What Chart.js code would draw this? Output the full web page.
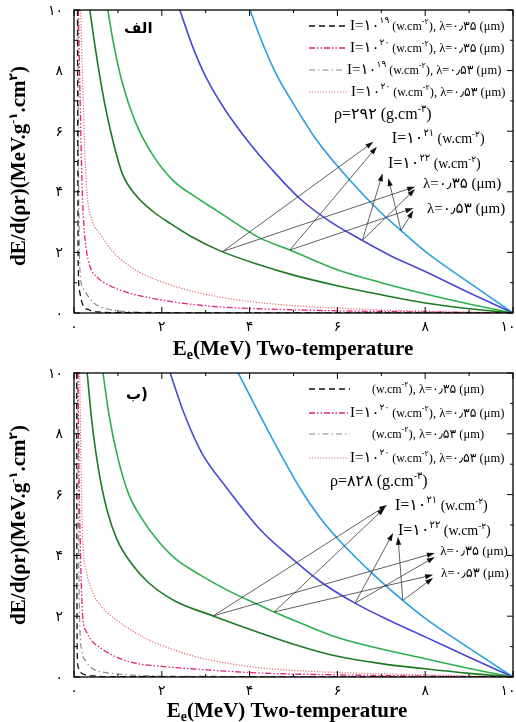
<!DOCTYPE html>
<html>
<head>
<meta charset="utf-8">
<script src="https://cdn.jsdelivr.net/npm/chart.js@4.4.1/dist/chart.umd.min.js"></script>
<style>
  body { margin: 0; background: #fff; width: 516px; height: 722px; overflow: hidden; }
  .panel { position: absolute; left: 0; width: 516px; height: 361px; }
</style>
</head>
<body>
<div class="panel" style="top:0"><canvas id="chartTop" width="516" height="361"></canvas></div>
<div class="panel" style="top:361px"><canvas id="chartBottom" width="516" height="361"></canvas></div>
<script>
// axis ticks (values), labels are drawn with Persian digits
const majorTicks = [0, 2, 4, 6, 8, 10];
const minorTicks = [1, 3, 5, 7, 9];

// ---- panel "الف" (rho = 292) : [E (MeV), dE/d(rho r)]
const topI19L35 = [[0.08,10],[0.085,6],[0.09,3],[0.1,1.3],[0.13,0.7],[0.2,0.27],[0.35,0.1],[0.6,0.03],[1,0.01],[10,0]];
const topI20L35 = [[0.1,10],[0.14,7],[0.18,4.4],[0.22,3.0],[0.28,2.1],[0.36,1.55],[0.55,1.15],[0.82,0.9],[1.2,0.68],[1.73,0.5],[2.5,0.32],[3.33,0.2],[5.15,0.1],[7,0.05],[10,0]];
const topI19L53 = [[0.09,10],[0.1,5.5],[0.12,2.4],[0.14,1.27],[0.2,0.85],[0.3,0.6],[0.45,0.33],[0.6,0.2],[1,0.07],[1.35,0.03],[3,0.01],[10,0]];
const topI20L53 = [[0.15,10],[0.2,7.5],[0.25,5.2],[0.3,3.9],[0.4,3.1],[0.6,2.6],[0.9,2.0],[1.28,1.53],[1.7,1.2],[2.19,0.93],[2.8,0.68],[3.55,0.47],[4.24,0.34],[5.15,0.23],[6.5,0.13],[8,0.06],[10,0]];
const topI21L35 = [[0.36,10],[0.5,8.6],[0.7,6.9],[0.9,5.6],[1.1,4.6],[1.4,3.9],[1.8,3.35],[2.2,2.95],[2.7,2.5],[3.33,2.05],[4.2,1.6],[5,1.25],[6,0.9],[7,0.6],[8,0.33],[9,0.14],[10,0]];
const topI21L53 = [[0.77,10],[0.9,8.9],[1.1,7.6],[1.4,6.3],[1.8,5.2],[2.26,4.37],[2.8,3.8],[3.26,3.37],[4.24,2.47],[4.92,2.08],[6,1.43],[7,1.0],[8,0.63],[9,0.3],[10,0]];
const topI22L35 = [[2.41,10],[2.7,8.8],[3.0,7.8],[3.4,6.8],[4.0,5.6],[4.5,4.75],[5.15,3.77],[5.8,3.05],[6.5,2.45],[7.2,1.9],[8,1.37],[9,0.67],[10,0]];
const topI22L53 = [[4.01,10],[4.24,9.1],[4.6,7.9],[5.0,6.9],[5.53,5.7],[6.29,4.37],[7.0,3.3],[7.45,2.72],[8,2.03],[9,1.0],[10,0]];

// ---- panel "ب" (rho = 828)
const botI19L35 = [[0.06,10],[0.065,4],[0.07,1.5],[0.08,0.53],[0.1,0.3],[0.15,0.15],[0.25,0.08],[0.5,0.03],[1,0.01],[10,0]];
const botI20L35 = [[0.09,10],[0.11,7.2],[0.14,4.52],[0.17,2.9],[0.2,1.96],[0.28,1.5],[0.4,1.2],[0.6,0.96],[0.9,0.7],[1.35,0.47],[2,0.35],[2.87,0.25],[4.24,0.13],[6,0.07],[8,0.03],[10,0]];
const botI19L53 = [[0.08,10],[0.1,5],[0.13,1.8],[0.18,0.86],[0.28,0.5],[0.43,0.27],[0.7,0.15],[0.98,0.1],[1.5,0.05],[3,0.02],[10,0]];
const botI20L53 = [[0.13,10],[0.16,7],[0.2,4.52],[0.28,3.5],[0.38,2.95],[0.52,2.52],[0.7,2.2],[0.98,1.86],[1.35,1.5],[1.73,1.2],[2.3,0.88],[2.87,0.63],[3.5,0.45],[4.24,0.3],[6,0.15],[8,0.07],[10,0]];
const botI21L35 = [[0.3,10],[0.4,8.5],[0.55,6.9],[0.75,5.5],[0.98,4.52],[1.3,3.75],[1.7,3.1],[2.3,2.5],[3.17,2.01],[4.24,1.45],[5,1.08],[6,0.68],[7,0.44],[8,0.27],[9,0.12],[10,0]];
const botI21L53 = [[0.66,10],[0.8,8.6],[1.0,7.2],[1.25,6.0],[1.55,5.2],[1.89,4.52],[2.3,3.9],[2.87,3.36],[3.5,2.85],[4.24,2.35],[4.56,2.14],[5.2,1.75],[6,1.3],[7,0.92],[8,0.6],[9,0.28],[10,0]];
const botI22L35 = [[2.19,10],[2.5,8.7],[2.9,7.4],[3.5,6.18],[4.24,4.85],[4.92,3.95],[5.6,3.15],[6.4,2.43],[7.2,1.85],[8,1.32],[9,0.65],[10,0]];
const botI22L53 = [[3.74,10],[4.24,8.6],[4.7,7.35],[5.15,6.2],[5.6,5.25],[6.04,4.5],[6.8,3.4],[7.49,2.52],[8,1.93],[9,0.95],[10,0]];

// arrows (data coords): start on a curve, head next to a label
const topArrowFrom = [[3.39,2.03],[3.39,2.03],[4.92,2.08],[4.92,2.08],[6.57,2.4],[6.57,2.4],[7.45,2.72],[7.45,2.72]];
const topArrowTo   = [[6.82,5.65],[7.77,4.17],[6.9,5.49],[7.73,3.46],[7.03,4.61],[7.77,4.09],[7.16,4.45],[7.73,3.38]];
const botArrowFrom = [[3.17,2.01],[3.17,2.01],[4.56,2.14],[4.56,2.14],[6.4,2.43],[6.4,2.43],[7.49,2.52],[7.49,2.52]];
const botArrowTo   = [[7.13,5.66],[8.22,4.08],[7.08,5.56],[8.18,3.36],[7.27,4.74],[8.22,3.95],[7.38,4.61],[8.18,3.26]];

// label anchors (data coords): I=10^21, I=10^22, lambda 0.35, lambda 0.53
const topLabelAt = [[7.24,5.78],[7.15,4.95],[7.95,4.29],[8.04,3.47]];
const botLabelAt = [[7.31,5.66],[7.38,4.84],[8.34,4.18],[8.36,3.45]];

const FAM = '"Liberation Serif", "DejaVu Sans", serif';
const PD = "۰۱۲۳۴۵۶۷۸۹";
function fa(n) { return String(n).replace(/\d/g, (d) => PD[d]); }

const styles = [
  { label: "I19 L0.35", color: "#111111", width: 1.3, dash: [6, 4] },
  { label: "I20 L0.35", color: "#e0207a", width: 1.3, dash: [6, 2, 1.5, 2, 1.5, 2] },
  { label: "I19 L0.53", color: "#8a8a8a", width: 1.2, dash: [6, 3, 1.5, 3] },
  { label: "I20 L0.53", color: "#e06a6a", width: 1.2, dash: [1.2, 1.6] },
  { label: "I21 L0.35", color: "#1c7a22", width: 1.6, dash: [] },
  { label: "I21 L0.53", color: "#2cb04c", width: 1.6, dash: [] },
  { label: "I22 L0.35", color: "#4848d8", width: 1.6, dash: [] },
  { label: "I22 L0.53", color: "#2a9fe0", width: 1.6, dash: [] },
];

function drawRich(ctx, x, y, parts, bold) {
  let cx = x;
  parts.forEach(([t, size, dy]) => {
    ctx.font = `${bold ? "bold " : ""}${size}px ${FAM}`;
    ctx.fillText(t, cx, y + dy);
    cx += ctx.measureText(t).width;
  });
  return cx - x;
}
function richWidth(ctx, parts, bold) {
  let w = 0;
  parts.forEach(([t, size]) => {
    ctx.font = `${bold ? "bold " : ""}${size}px ${FAM}`;
    w += ctx.measureText(t).width;
  });
  return w;
}

function drawArrow(ctx, x0, y0, x1, y1) {
  const a = Math.atan2(y1 - y0, x1 - x0);
  const L = 8, W = 2.6;
  ctx.strokeStyle = "#3a3a3a";
  ctx.lineWidth = 0.8;
  ctx.beginPath();
  ctx.moveTo(x0, y0);
  ctx.lineTo(x1 - L * 0.6 * Math.cos(a), y1 - L * 0.6 * Math.sin(a));
  ctx.stroke();
  ctx.fillStyle = "#111";
  ctx.beginPath();
  ctx.moveTo(x1, y1);
  ctx.lineTo(x1 - L * Math.cos(a) + W * Math.sin(a), y1 - L * Math.sin(a) - W * Math.cos(a));
  ctx.lineTo(x1 - L * Math.cos(a) - W * Math.sin(a), y1 - L * Math.sin(a) + W * Math.cos(a));
  ctx.closePath();
  ctx.fill();
}

function makePanel(canvasId, cfg) {
  const datasets = cfg.curves.map((pts, i) => ({
    label: styles[i].label,
    data: pts.map(([x, y]) => ({ x, y })),
    showLine: true,
    borderColor: styles[i].color,
    borderWidth: styles[i].width,
    borderDash: styles[i].dash,
    pointRadius: 0,
    cubicInterpolationMode: "monotone",
    fill: false,
  }));

  const decor = {
    id: "decor",
    afterDatasetsDraw(chart) {
      const ctx = chart.ctx;
      const xs = chart.scales.x, ys = chart.scales.y;
      const { left, right, top, bottom } = chart.chartArea;
      const px = (v) => xs.getPixelForValue(v);
      const py = (v) => ys.getPixelForValue(v);
      ctx.save();

      // arrows
      cfg.arrowFrom.forEach((f, i) => {
        const t = cfg.arrowTo[i];
        drawArrow(ctx, px(f[0]), py(f[1]), px(t[0]), py(t[1]));
      });

      // frame
      ctx.strokeStyle = "#000";
      ctx.lineWidth = 1.3;
      ctx.setLineDash([]);
      ctx.strokeRect(left, top, right - left, bottom - top);

      // ticks on all four sides, pointing in
      ctx.lineWidth = 1;
      const tick = (v, len) => {
        const X = px(v), Y = py(v);
        ctx.beginPath();
        ctx.moveTo(X, bottom); ctx.lineTo(X, bottom - len);
        ctx.moveTo(X, top); ctx.lineTo(X, top + len);
        ctx.moveTo(left, Y); ctx.lineTo(left + len, Y);
        ctx.moveTo(right, Y); ctx.lineTo(right - len, Y);
        ctx.stroke();
      };
      majorTicks.forEach((v) => tick(v, 6));
      minorTicks.forEach((v) => tick(v, 3));

      // tick labels
      ctx.fillStyle = "#000";
      ctx.font = `14px ${FAM}`;
      ctx.textBaseline = "middle";
      ctx.textAlign = "right";
      majorTicks.forEach((v) => ctx.fillText(fa(v), left - 11, py(v) + 1));
      ctx.textAlign = "center";
      majorTicks.forEach((v) => ctx.fillText(fa(v), Math.min(px(v), chart.width - 8), bottom + 14));
      ctx.textAlign = "left";
      ctx.textBaseline = "alphabetic";

      // x title
      const xt = [["E", 21, 0], ["e", 14, 4], ["(MeV) Two-temperature", 21, 0]];
      const xw = richWidth(ctx, xt, true);
      drawRich(ctx, cfg.xTitleX - xw / 2, cfg.xTitleY, xt, true);

      // y title
      const yt = [["dE/d(ρr)(MeV.g", 21, 0], ["-۱", 12, -8], [".cm", 21, 0], ["۲", 12, -8], [")", 21, 0]];
      const yw = richWidth(ctx, yt, true);
      ctx.save();
      ctx.translate(25, cfg.yTitleY);
      ctx.rotate(-Math.PI / 2);
      drawRich(ctx, -yw / 2, 0, yt, true);
      ctx.restore();

      // panel tag
      ctx.font = `bold 15px "DejaVu Sans", sans-serif`;
      ctx.fillText(cfg.tag, cfg.tagX, cfg.tagY);

      // legend rows
      cfg.legend.forEach((row, i) => {
        const s = styles[i];
        ctx.strokeStyle = s.color;
        ctx.lineWidth = s.width;
        ctx.setLineDash(s.dash);
        ctx.beginPath();
        ctx.moveTo(309, row.y);
        ctx.lineTo(row.lineEnd, row.y);
        ctx.stroke();
        ctx.setLineDash([]);
        ctx.fillStyle = "#000";
        drawRich(ctx, row.x, row.y + 4, row.parts, false);
      });

      // rho
      drawRich(ctx, cfg.rhoX, cfg.rhoY, [["ρ=" + cfg.rho + " (g.cm", 16, 0], ["-۳", 10, -7], [")", 16, 0]], false);

      // arrow labels
      const labs = [
        [["I=۱۰", 16, 0], ["۲۱", 10, -7], [" (w.cm", 14, 0], ["-۲", 9, -6], [")", 14, 0]],
        [["I=۱۰", 16, 0], ["۲۲", 10, -7], [" (w.cm", 14, 0], ["-۲", 9, -6], [")", 14, 0]],
        [["λ=۰٫۳۵ (μm)", cfg.lamSize, 0]],
        [["λ=۰٫۵۳ (μm)", cfg.lamSize, 0]],
      ];
      cfg.labelAt.forEach((p, i) => drawRich(ctx, px(p[0]), py(p[1]) + 5, labs[i], false));

      ctx.restore();
    },
  };

  return new Chart(document.getElementById(canvasId), {
    type: "scatter",
    data: { datasets },
    options: {
      responsive: false,
      animation: false,
      devicePixelRatio: 1,
      layout: { padding: cfg.padding },
      plugins: { legend: { display: false }, tooltip: { enabled: false } },
      scales: {
        x: { type: "linear", min: 0, max: 10, display: false },
        y: { type: "linear", min: 0, max: 10, display: false },
      },
    },
    plugins: [decor],
  });
}

function rowParts(exp, lam, withI) {
  const tail = [["(w.cm", 12, 0], ["-۲", 8, -6], ["), λ=" + lam + " (μm)", 12.5, 0]];
  return withI ? [["I=۱۰", 15, 0], [exp, 9, -7], [" ", 12, 0]].concat(tail) : tail;
}

makePanel("chartTop", {
  curves: [topI19L35, topI20L35, topI19L53, topI20L53, topI21L35, topI21L53, topI22L35, topI22L53],
  arrowFrom: topArrowFrom, arrowTo: topArrowTo, labelAt: topLabelAt,
  padding: { left: 74, right: 3, top: 10, bottom: 48 },
  xTitleX: 293, xTitleY: 355, yTitleY: 166,
  tag: "الف", tagX: 124, tagY: 33,
  rho: "۲۹۲", rhoX: 334, rhoY: 119,
  lamSize: 15,
  legend: [
    { y: 26, lineEnd: 349, x: 350, parts: rowParts("۱۹", "۰٫۳۵", true) },
    { y: 48, lineEnd: 347, x: 350, parts: rowParts("۲۰", "۰٫۳۵", true) },
    { y: 70, lineEnd: 343, x: 347, parts: rowParts("۱۹", "۰٫۵۳", true) },
    { y: 92, lineEnd: 347, x: 351, parts: rowParts("۲۰", "۰٫۵۳", true) },
  ],
});

makePanel("chartBottom", {
  curves: [botI19L35, botI20L35, botI19L53, botI20L53, botI21L35, botI21L53, botI22L35, botI22L53],
  arrowFrom: botArrowFrom, arrowTo: botArrowTo, labelAt: botLabelAt,
  padding: { left: 74, right: 3, top: 12, bottom: 45 },
  xTitleX: 287, xTitleY: 356, yTitleY: 164,
  tag: "ب)", tagX: 126, tagY: 38,
  rho: "۸۲۸", rhoX: 330, rhoY: 125,
  lamSize: 13,
  legend: [
    { y: 28, lineEnd: 350, x: 372, parts: rowParts("۱۹", "۰٫۳۵", false) },
    { y: 52, lineEnd: 348, x: 350, parts: rowParts("۲۰", "۰٫۳۵", true) },
    { y: 73, lineEnd: 350, x: 372, parts: rowParts("۱۹", "۰٫۵۳", false) },
    { y: 97, lineEnd: 348, x: 350, parts: rowParts("۲۰", "۰٫۵۳", true) },
  ],
});
</script>
</body>
</html>
